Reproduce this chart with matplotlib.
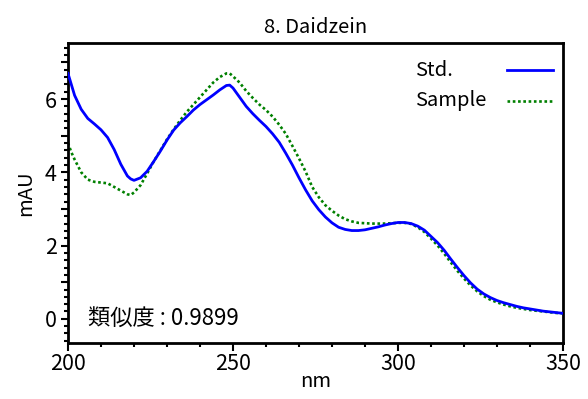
import matplotlib
matplotlib.use("Agg")
import matplotlib.pyplot as plt
from matplotlib.lines import Line2D
from matplotlib.ticker import MultipleLocator, FixedLocator, FuncFormatter
from matplotlib.transforms import blended_transform_factory

plt.rcParams['font.family'] = ['Noto Sans CJK JP', 'DejaVu Sans']

title = "8. Daidzein"
similarity = 0.9899

wavelength = [200, 201, 202, 204, 206, 208, 210, 212, 214, 216, 218, 219, 220, 222, 224,
              226, 228, 230, 232, 234, 236, 238, 240, 242, 244, 246, 248, 249, 250,
              252, 254, 256, 258, 260, 262, 264, 266, 268, 270, 272, 274, 276, 278,
              280, 282, 284, 286, 288, 290, 292, 294, 296, 298, 300, 302, 304, 306,
              308, 310, 312, 314, 316, 318, 320, 322, 324, 326, 328, 330, 332, 334,
              336, 338, 340, 342, 344, 346, 348, 350]

std_mau = [6.70, 6.40, 6.10, 5.72, 5.47, 5.32, 5.16, 4.95, 4.62, 4.22, 3.90, 3.82, 3.78, 3.85, 4.03,
           4.30, 4.58, 4.88, 5.15, 5.35, 5.52, 5.70, 5.85, 5.98, 6.11, 6.25, 6.37, 6.38, 6.30,
           6.05, 5.80, 5.60, 5.42, 5.25, 5.05, 4.82, 4.52, 4.20, 3.85, 3.52, 3.22, 2.98, 2.78,
           2.62, 2.50, 2.44, 2.41, 2.41, 2.43, 2.47, 2.51, 2.56, 2.60, 2.63, 2.63, 2.60, 2.53,
           2.42, 2.25, 2.08, 1.87, 1.63, 1.40, 1.18, 0.98, 0.81, 0.68, 0.58, 0.50, 0.44, 0.39,
           0.34, 0.30, 0.27, 0.24, 0.21, 0.19, 0.17, 0.15]

sample_mau = [4.80, 4.55, 4.35, 4.00, 3.80, 3.74, 3.72, 3.70, 3.60, 3.50, 3.40, 3.38, 3.45, 3.65, 3.97,
              4.30, 4.60, 4.90, 5.17, 5.42, 5.65, 5.85, 6.05, 6.25, 6.45, 6.60, 6.70, 6.70, 6.62,
              6.45, 6.22, 6.03, 5.85, 5.70, 5.52, 5.30, 5.05, 4.72, 4.38, 4.02, 3.60, 3.32, 3.10,
              2.95, 2.82, 2.72, 2.66, 2.62, 2.61, 2.60, 2.60, 2.60, 2.61, 2.62, 2.62, 2.59, 2.50,
              2.37, 2.19, 2.00, 1.78, 1.54, 1.31, 1.10, 0.91, 0.75, 0.62, 0.52, 0.45, 0.39, 0.34,
              0.30, 0.27, 0.24, 0.22, 0.20, 0.18, 0.16, 0.15]

x_ticks = [200, 250, 300, 350]
y_ticks = [0, 2, 4, 6]

std_style = dict(color="#0000ff", lw=2.0)
sample_style = dict(color="#008000", lw=1.9, linestyle=(0, (1, 1)))

fig = plt.figure(figsize=(5.88, 3.99), dpi=100)
ax = fig.add_axes([68 / 588, 1 - 343 / 399, 495 / 588, 300 / 399])

ax.plot(wavelength, std_mau, zorder=3, **std_style)
ax.plot(wavelength, sample_mau, zorder=2, **sample_style)

ax.set_xlim(200, 350)
ax.set_ylim(-0.66, 7.53)

ax.xaxis.set_major_locator(FixedLocator(x_ticks))
ax.xaxis.set_minor_locator(MultipleLocator(10))
ax.yaxis.set_major_locator(MultipleLocator(1))
ax.yaxis.set_minor_locator(MultipleLocator(0.2))
ax.yaxis.set_major_formatter(FuncFormatter(
    lambda v, p: f"{int(round(v))}" if int(round(v)) in y_ticks else ""))

ax.tick_params(axis="both", which="major", direction="out", length=5, width=1.5,
               labelsize=15.5, pad=3, color="black")
ax.tick_params(axis="both", which="minor", direction="out", length=3, width=1.5,
               color="black")
ax.tick_params(axis="x", which="major", length=6, pad=1)

for side in ["left", "right", "top", "bottom"]:
    ax.spines[side].set_linewidth(2.0)
    ax.spines[side].set_color("black")

ax.set_title(title, fontsize=14.5, pad=7)
ax.set_xlabel("nm", fontsize=14.5, labelpad=-3)
ax.set_ylabel("mAU", fontsize=14.5, labelpad=6)

# legend: labels left-aligned, line samples to their right
legend_rows = [("Std.", std_style, 0.91), ("Sample", sample_style, 0.807)]
for label, style, yy in legend_rows:
    ax.text(0.701, yy, label, transform=ax.transAxes, fontsize=14.5,
            ha="left", va="center")
    ax.add_line(Line2D([0.887, 0.980], [yy, yy], transform=ax.transAxes, **style))

tr = blended_transform_factory(ax.transAxes, ax.transData)
ax.text(0.04, 0.0, f"類似度 : {similarity:.4f}", transform=tr, fontsize=16,
        va="center", ha="left")

fig.savefig("out.png", dpi=100)
